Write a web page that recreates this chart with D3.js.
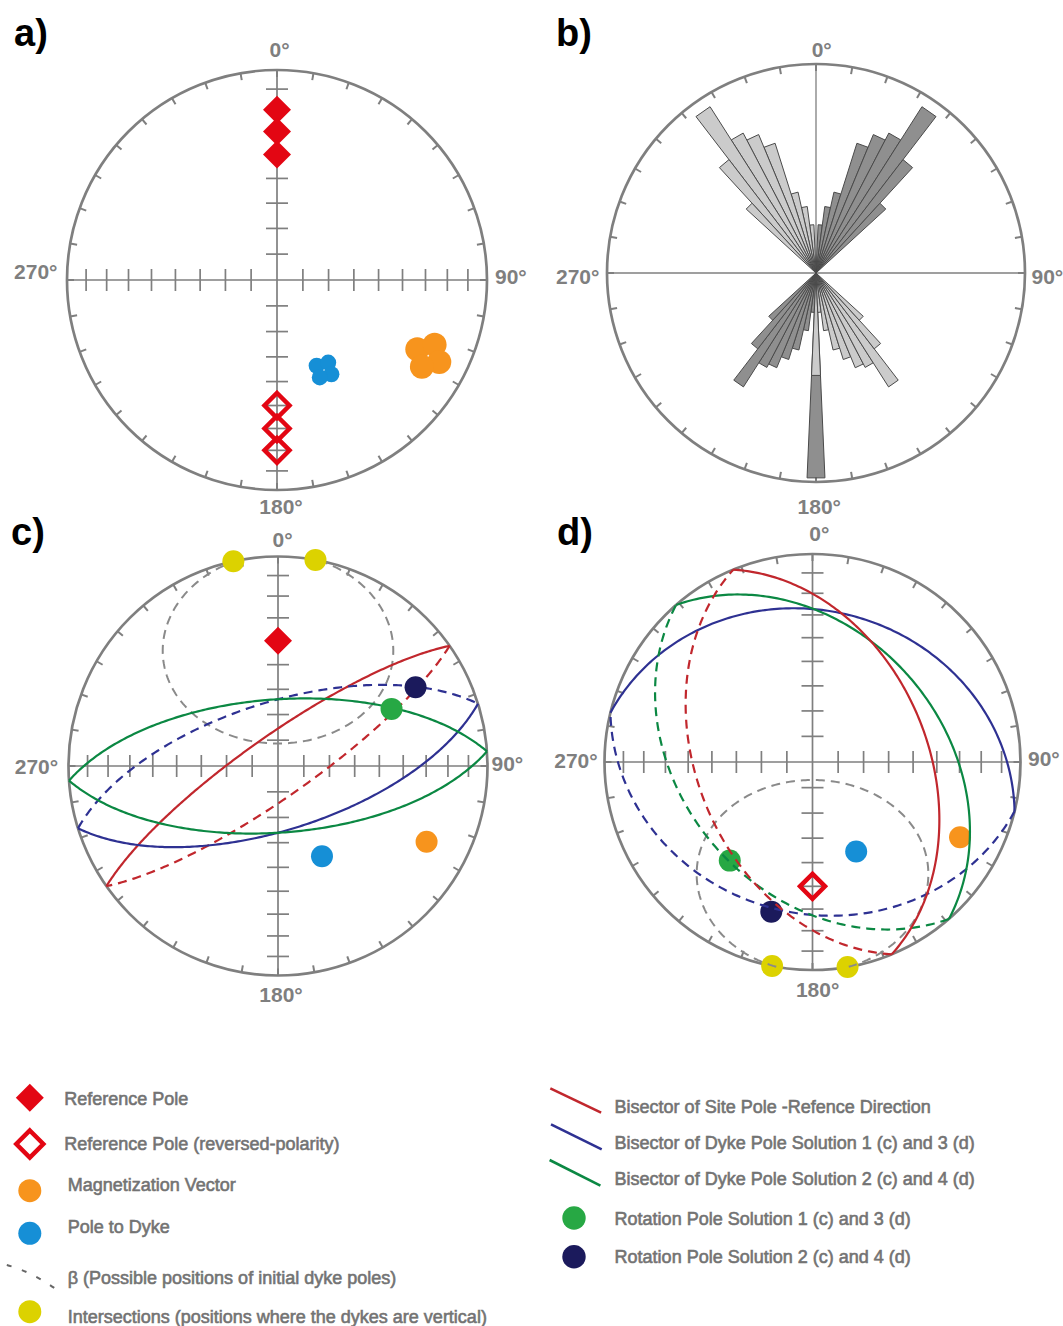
<!DOCTYPE html>
<html><head><meta charset="utf-8">
<script src="https://cdnjs.cloudflare.com/ajax/libs/d3/7.8.5/d3.min.js"></script>
<style>
body{margin:0;background:#fff;}
svg{display:block;}
text{font-family:"Liberation Sans",Arial,Helvetica,sans-serif;}
</style>
</head><body>
<svg id="chart" width="1063" height="1326"></svg>
<script>
// ---------------- DATA ----------------
// Panel a: reference poles (dec, inc)
const referencePoles = [{dec:0,inc:20},{dec:0,inc:30},{dec:0,inc:40}];
const reversedPoles  = [{dec:180,inc:-20},{dec:180,inc:-30},{dec:180,inc:-40}];
// site directions forming the clusters in panel a
const magnetizationSites = [{dec:116.3,inc:26.4},{dec:112.3,inc:20.0},{dec:116.8,inc:14.5},{dec:120.9,inc:20.7}];
const dykePoleSites      = [{dec:155.2,inc:52.9},{dec:148.2,inc:51.8},{dec:150.0,inc:47.0},{dec:156.3,inc:48.0}];
// mean directions (panels c, d)
const magnetizationMean = {dec:117, inc:21.5};
const dykePoleMean      = {dec:154, inc:50.4};

// Panel b: rose diagram (bin centre azimuths, counts)
const roseDarkAzimuths  = [5,10,15,20,25,30,35,40,45, 180,185,190,195,200,205,210,215,220,225];
const roseDarkCounts    = [4.9,6.8,8.4,13.8,15.2,16.0,20.0,14.5,9.6, 20.8,4.0,5.9,8.0,9.2,10.4,10.8,13.7,9.7,6.5];
const roseLightAzimuths = [355,350,345,340,335,330,325,320,315, 180,175,170,165,160,155,150,145,140,135];
const roseLightCounts   = [4.9,6.8,8.4,13.8,15.2,16.0,20.0,14.5,9.6, 10.4,4.0,5.9,8.0,9.2,10.4,10.8,13.7,9.7,6.5];
const roseMaxCount = 21.2;

// Panel c
const cReferencePole = {dec:0, inc:40};
const cIntersections = [{dec:347.7,inc:0},{dec:10.3,inc:0}];
const cRotationPole1 = {dec:63.3, inc:39.2};
const cRotationPole2 = {dec:60.2, inc:25.3};
const cBetaCone = {axisDec:0, axisInc:40, angle:41.3};
const cPlanes = [
  {key:'site',  dipDir:325,   dip:78, upperDashed:true},
  {key:'dyke1', dipDir:162.7, dip:65, upperDashed:true},
  {key:'dyke2', dipDir:176,   dip:64, upperDashed:false}
];
// Panel d
const dReferencePole = {dec:180, inc:-40};
const dIntersections = [{dec:191.2,inc:0},{dec:170.3,inc:0}];
const dRotationPole1 = {dec:220, inc:38.1};
const dRotationPole2 = {dec:195.4, inc:26.3};
const dBetaCone = {axisDec:180, axisInc:41, angle:42};
const dPlanes = [
  {key:'dyke1', dipDir:13.7, dip:28, upperDashed:true},
  {key:'dyke2', dipDir:49,   dip:38, upperDashed:true},
  {key:'site',  dipDir:67.6, dip:44, upperDashed:true}
];

const axisTickInclinations = [10,20,30,40,50,60,70,80];
const azimuthTicks = d3.range(0,360,10);

const legendLeft = [
  'Reference Pole',
  'Reference Pole (reversed-polarity)',
  'Magnetization Vector',
  'Pole to Dyke',
  'β (Possible positions of initial dyke poles)',
  'Intersections (positions where the dykes are vertical)'
];
const legendRight = [
  'Bisector of Site Pole -Refence Direction',
  'Bisector of Dyke Pole Solution 1 (c) and 3 (d)',
  'Bisector of Dyke Pole Solution 2 (c) and 4 (d)',
  'Rotation Pole Solution 1 (c) and 3 (d)',
  'Rotation Pole Solution 2 (c) and 4 (d)'
];

// ---------------- STYLE ----------------
const C = {
  net:'#7f7f7f', red:'#e30613', redLine:'#c1272d', blueLine:'#2e3192', greenLine:'#0b8843',
  greenDot:'#27a844', navyDot:'#1b1a5c', yellow:'#dcd200', orange:'#f7941d', blue:'#168fd6',
  gray:'#8a8a8a', text:'#737373', roseDark:'#8f8f8f', roseLight:'#cbcbcb', roseStroke:'#4a4a4a'
};
const planeColor = {site:C.redLine, dyke1:C.blueLine, dyke2:C.greenLine};

const svg = d3.select('#chart');
svg.append('rect').attr('width',1063).attr('height',1326).attr('fill','#fff');

const toRad = Math.PI/180;
function dirToVec(dec,inc){const d=dec*toRad,i=inc*toRad;return [Math.cos(i)*Math.cos(d),Math.cos(i)*Math.sin(d),Math.sin(i)];}
function vecToDir(v){const n=Math.hypot(v[0],v[1],v[2]);return {dec:Math.atan2(v[1],v[0])/toRad,inc:Math.asin(Math.max(-1,Math.min(1,v[2]/n)))/toRad};}

function makeProj(p){
  const rs = d3.scaleLinear().domain([0,1]).range([0,p.R]);
  const f = (dec,inc)=>{
    const rn = Math.SQRT2*Math.sin((90-Math.abs(inc))/2*toRad);
    const r = rs(rn);
    return [p.cx + r*Math.sin(dec*toRad), p.cy - r*Math.cos(dec*toRad)];
  };
  f.radius = inc => rs(Math.SQRT2*Math.sin((90-Math.abs(inc))/2*toRad));
  return f;
}

function greatCircle(dipDir,dip){
  const a=dipDir*toRad,d=dip*toRad;
  const s=[Math.cos(a-Math.PI/2),Math.sin(a-Math.PI/2),0];
  const dv=[Math.cos(d)*Math.cos(a),Math.cos(d)*Math.sin(a),Math.sin(d)];
  return d3.range(0,180.5,1).map(t=>{const c=Math.cos(t*toRad),sn=Math.sin(t*toRad);
    return vecToDir([c*s[0]+sn*dv[0],c*s[1]+sn*dv[1],c*s[2]+sn*dv[2]]);});
}
function smallCircle(axisDec,axisInc,angle){
  const a=dirToVec(axisDec,axisInc);
  const up=[0,0,-1];
  const dot=up[0]*a[0]+up[1]*a[1]+up[2]*a[2];
  let u=[up[0]-dot*a[0],up[1]-dot*a[1],up[2]-dot*a[2]];
  const un=Math.hypot(...u); u=u.map(x=>x/un);
  const w=[a[1]*u[2]-a[2]*u[1],a[2]*u[0]-a[0]*u[2],a[0]*u[1]-a[1]*u[0]];
  const th=angle*toRad;
  const c0=Math.max(-1,Math.min(1,-Math.cos(th)*a[2]/(Math.sin(th)*u[2])));
  const phi0=Math.acos(c0);
  return d3.range(0,241).map(k=>{
    const phi=phi0+(2*Math.PI-2*phi0)*k/240;
    const cp=Math.cos(phi),sp=Math.sin(phi);
    const v=[0,1,2].map(j=>Math.cos(th)*a[j]+Math.sin(th)*(cp*u[j]+sp*w[j]));
    return vecToDir(v);
  });
}

const panels = {
  a:{cx:277, cy:280, R:210},
  b:{cx:816, cy:273, R:209},
  c:{cx:278, cy:766, R:209.5},
  d:{cx:812.5, cy:762, R:208}
};

function drawNet(p, withTicks, axisWidth){
  const g = svg.append('g');
  const proj = makeProj(p);
  g.append('line').attr('x1',p.cx-p.R).attr('x2',p.cx+p.R).attr('y1',p.cy).attr('y2',p.cy)
    .attr('stroke',C.net).attr('stroke-width',axisWidth);
  g.append('line').attr('x1',p.cx).attr('x2',p.cx).attr('y1',p.cy-p.R).attr('y2',p.cy+p.R)
    .attr('stroke',C.net).attr('stroke-width',axisWidth);
  if(withTicks){
    const tk = [];
    axisTickInclinations.forEach(i=>{ const r=proj.radius(i); tk.push({r,s:1},{r,s:-1}); });
    g.selectAll('.hx').data(tk).join('line')
      .attr('x1',d=>p.cx+d.s*d.r).attr('x2',d=>p.cx+d.s*d.r)
      .attr('y1',p.cy-11).attr('y2',p.cy+11).attr('stroke',C.net).attr('stroke-width',1.7);
    g.selectAll('.vy').data(tk).join('line')
      .attr('y1',d=>p.cy+d.s*d.r).attr('y2',d=>p.cy+d.s*d.r)
      .attr('x1',p.cx-11).attr('x2',p.cx+11).attr('stroke',C.net).attr('stroke-width',1.7);
  }
  g.selectAll('.ot').data(azimuthTicks).join('line')
    .attr('x1',d=>p.cx+p.R*Math.sin(d*toRad)).attr('y1',d=>p.cy-p.R*Math.cos(d*toRad))
    .attr('x2',d=>p.cx+(p.R-7)*Math.sin(d*toRad)).attr('y2',d=>p.cy-(p.R-7)*Math.cos(d*toRad))
    .attr('stroke',C.net).attr('stroke-width',2);
  g.append('circle').attr('cx',p.cx).attr('cy',p.cy).attr('r',p.R)
    .attr('fill','none').attr('stroke',C.net).attr('stroke-width',2.7);
  return proj;
}

function degLabels(pos){
  const g = svg.append('g').attr('font-size',21).attr('font-weight','bold').attr('fill',C.net);
  g.append('text').attr('x',pos.n[0]).attr('y',pos.n[1]).attr('text-anchor','middle').text('0°');
  g.append('text').attr('x',pos.s[0]).attr('y',pos.s[1]).attr('text-anchor','middle').text('180°');
  g.append('text').attr('x',pos.w[0]).attr('y',pos.w[1]).attr('text-anchor','end').text('270°');
  g.append('text').attr('x',pos.e[0]).attr('y',pos.e[1]).attr('text-anchor','start').text('90°');
}
function panelLetter(t,x,y){
  svg.append('text').attr('x',x).attr('y',y).attr('font-size',38).attr('font-weight','bold')
    .attr('fill','#000').text(t);
}
function diamondPath(x,y,h){return `M${x},${y-h}L${x+h},${y}L${x},${y+h}L${x-h},${y}Z`;}

const line = d3.line();

// ---------- Panel a ----------
{
  const p=panels.a; const proj=drawNet(p,true,1.7);
  degLabels({n:[279.5,57],s:[281,514],w:[57.5,279],e:[495,284]});
  panelLetter('a)',14,46);
  const g=svg.append('g');
  g.selectAll('.rp').data(referencePoles).join('path')
    .attr('d',d=>{const q=proj(d.dec,d.inc);return diamondPath(q[0],q[1],14);}).attr('fill',C.red);
  g.selectAll('.rr').data(reversedPoles).join('path')
    .attr('d',d=>{const q=proj(d.dec,d.inc);return diamondPath(q[0],q[1],12.5);})
    .attr('fill','none').attr('stroke',C.red).attr('stroke-width',4.5);
  g.selectAll('.ms').data(magnetizationSites).join('circle')
    .attr('cx',d=>proj(d.dec,d.inc)[0]).attr('cy',d=>proj(d.dec,d.inc)[1]).attr('r',12).attr('fill',C.orange);
  g.selectAll('.ds').data(dykePoleSites).join('circle')
    .attr('cx',d=>proj(d.dec,d.inc)[0]).attr('cy',d=>proj(d.dec,d.inc)[1]).attr('r',8).attr('fill',C.blue);
}

// ---------- Panel b (rose) ----------
{
  const p=panels.b; drawNet(p,false,1.3);
  degLabels({n:[821.7,57],s:[819.3,514],w:[599.4,284],e:[1031.5,284]});
  panelLetter('b)',556,46);
  const rs=d3.scaleLinear().domain([0,roseMaxCount]).range([0,p.R]);
  const half=2.5;
  const wedge=(az,c)=>{
    const L=rs(c);
    const a1=(az-half)*toRad,a2=(az+half)*toRad;
    return line([[p.cx,p.cy],[p.cx+L*Math.sin(a1),p.cy-L*Math.cos(a1)],[p.cx+L*Math.sin(a2),p.cy-L*Math.cos(a2)]])+'Z';
  };
  const dark=roseDarkAzimuths.map((a,i)=>({a,c:roseDarkCounts[i]}));
  const light=roseLightAzimuths.map((a,i)=>({a,c:roseLightCounts[i]}));
  const g=svg.append('g').attr('stroke',C.roseStroke).attr('stroke-width',1).attr('stroke-linejoin','round');
  g.selectAll('.dk').data(dark).join('path').attr('d',d=>wedge(d.a,d.c)).attr('fill',C.roseDark);
  g.selectAll('.lt').data(light).join('path').attr('d',d=>wedge(d.a,d.c)).attr('fill',C.roseLight);
}

function drawPlanes(proj,planes){
  const g=svg.append('g').attr('fill','none').attr('stroke-width',2.2);
  planes.forEach(pl=>{
    const lower=greatCircle(pl.dipDir,pl.dip).map(d=>proj(d.dec,d.inc));
    const upper=greatCircle(pl.dipDir+180,pl.dip).map(d=>proj(d.dec,d.inc));
    g.append('path').attr('d',line(lower)).attr('stroke',planeColor[pl.key]);
    g.append('path').attr('d',line(upper)).attr('stroke',planeColor[pl.key])
      .attr('stroke-dasharray',pl.upperDashed?'9,6':null);
  });
}
function drawCone(proj,cone){
  const pts=smallCircle(cone.axisDec,cone.axisInc,cone.angle).map(d=>proj(d.dec,d.inc));
  svg.append('path').attr('d',line(pts)).attr('fill','none').attr('stroke',C.gray)
    .attr('stroke-width',2).attr('stroke-dasharray','9,6');
}
function dot(proj,d,color,r){const q=proj(d.dec,d.inc);
  svg.append('circle').attr('cx',q[0]).attr('cy',q[1]).attr('r',r||11).attr('fill',color);}

// ---------- Panel c ----------
{
  const p=panels.c; const proj=drawNet(p,true,1.7);
  degLabels({n:[282.6,547],s:[281,1002],w:[58.2,774],e:[491.5,771]});
  panelLetter('c)',11,545);
  drawCone(proj,cBetaCone);
  drawPlanes(proj,cPlanes);
  const q=proj(cReferencePole.dec,cReferencePole.inc);
  svg.append('path').attr('d',diamondPath(q[0],q[1],14)).attr('fill',C.red);
  cIntersections.forEach(d=>dot(proj,d,C.yellow));
  dot(proj,magnetizationMean,C.orange);
  dot(proj,dykePoleMean,C.blue);
  dot(proj,cRotationPole1,C.greenDot);
  dot(proj,cRotationPole2,C.navyDot);
}

// ---------- Panel d ----------
{
  const p=panels.d; const proj=drawNet(p,true,1.7);
  degLabels({n:[819.3,540.5],s:[817.6,997],w:[597.7,768],e:[1028,766]});
  panelLetter('d)',557,545);
  dIntersections.forEach(d=>dot(proj,d,C.yellow));
  dot(proj,magnetizationMean,C.orange);
  dot(proj,dykePoleMean,C.blue);
  dot(proj,dRotationPole1,C.greenDot);
  dot(proj,dRotationPole2,C.navyDot);
  const q=proj(dReferencePole.dec,dReferencePole.inc);
  svg.append('path').attr('d',diamondPath(q[0],q[1],12.5)).attr('fill','none').attr('stroke',C.red).attr('stroke-width',4.5);
  drawCone(proj,dBetaCone);
  drawPlanes(proj,dPlanes);
}

// ---------- Legend ----------
{
  const g=svg.append('g').attr('font-size',18).attr('fill',C.text).attr('stroke',C.text).attr('stroke-width',0.6);
  const lx=[64.3,64.3,67.7,67.7,67.7,67.7];
  const ly=[1105,1150,1190.5,1233,1284,1322.5];
  legendLeft.forEach((t,i)=>g.append('text').attr('x',lx[i]).attr('y',ly[i]).text(t));
  svg.append('path').attr('d',diamondPath(29.8,1097.7,14)).attr('fill',C.red);
  svg.append('path').attr('d',diamondPath(29.8,1144,13.5)).attr('fill','none').attr('stroke',C.red).attr('stroke-width',4.5);
  svg.append('circle').attr('cx',29.8).attr('cy',1190.7).attr('r',11.5).attr('fill',C.orange);
  svg.append('circle').attr('cx',29.8).attr('cy',1233.3).attr('r',11.5).attr('fill',C.blue);
  svg.append('path').attr('d','M6.8,1265 Q30,1271 55.8,1289').attr('fill','none').attr('stroke','#666')
    .attr('stroke-width',2).attr('stroke-dasharray','5,11');
  svg.append('circle').attr('cx',29.8).attr('cy',1311.7).attr('r',11.5).attr('fill',C.yellow);

  const rx=614.6;
  const ry=[1112.5,1149,1185,1225,1262.5];
  legendRight.forEach((t,i)=>g.append('text').attr('x',rx).attr('y',ry[i]).text(t));
  const segs=[[C.redLine,550.3,1088.3,601.1,1112.7],[C.blueLine,551,1124.3,601.7,1149.3],[C.greenLine,549.6,1160,600.4,1185.7]];
  segs.forEach(s=>svg.append('line').attr('x1',s[1]).attr('y1',s[2]).attr('x2',s[3]).attr('y2',s[4])
    .attr('stroke',s[0]).attr('stroke-width',2.6));
  svg.append('circle').attr('cx',574).attr('cy',1218).attr('r',11.7).attr('fill',C.greenDot);
  svg.append('circle').attr('cx',574).attr('cy',1256.7).attr('r',11.7).attr('fill',C.navyDot);
}
</script>
</body></html>
